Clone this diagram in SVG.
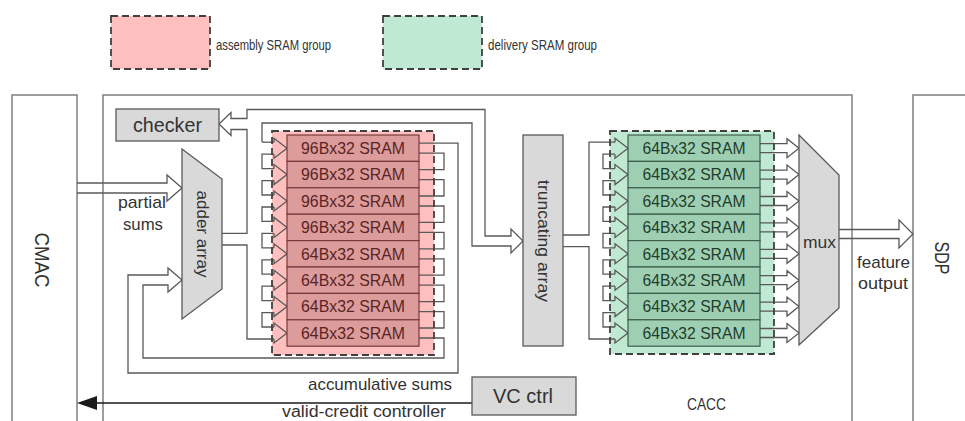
<svg xmlns="http://www.w3.org/2000/svg" width="965" height="421" viewBox="0 0 965 421">
<style>
text{font-family:"Liberation Sans",Arial,sans-serif;fill:#333}
.blk{fill:#fff;stroke:#7f7f7f;stroke-width:1.5}
.gray{fill:#d9d9d9;stroke:#595959;stroke-width:1.3}
.pgrp{fill:#ffbfbf;stroke:none}
.ggrp{fill:#bfe9d3;stroke:none}
.dash{fill:none;stroke:#404040;stroke-width:1.8;stroke-dasharray:7,4}
.psram{fill:#dc9c9c;stroke:#7a3a3a;stroke-width:1.2}
.gsram{fill:#9fcfb3;stroke:#3d5e4a;stroke-width:1.2}
.pt{fill:#5a2424;font-size:16.5px}
.gt{fill:#1f3d2b;font-size:16.5px}
.cn{fill:none;stroke:#595959;stroke-width:1.3;stroke-linejoin:miter}
</style>

<g id="legend">
<rect class="pgrp" x="111" y="16" width="99" height="53"/>
<rect class="dash" x="111" y="16" width="99" height="53"/>
<text x="216" y="50" font-size="15.5" textLength="115" lengthAdjust="spacingAndGlyphs">assembly SRAM group</text>
<rect class="ggrp" x="383" y="16" width="99" height="53"/>
<rect class="dash" x="383" y="16" width="99" height="53"/>
<text x="488" y="50" font-size="15.5" textLength="109" lengthAdjust="spacingAndGlyphs">delivery SRAM group</text>
</g>

<g id="cmac">
<rect class="blk" x="12" y="95" width="65" height="345"/>
<text transform="translate(42,260) rotate(90)" x="0" y="7.5" font-size="21" text-anchor="middle" textLength="55" lengthAdjust="spacingAndGlyphs">CMAC</text>
</g>
<g id="cacc">
<rect class="blk" x="103" y="95" width="749" height="345"/>
<text x="687" y="410" font-size="16" textLength="39" lengthAdjust="spacingAndGlyphs">CACC</text>
</g>
<g id="sdp">
<rect class="blk" x="913" y="95" width="80" height="345"/>
<text transform="translate(942,258) rotate(90)" x="0" y="7" font-size="20" text-anchor="middle" textLength="33" lengthAdjust="spacingAndGlyphs">SDP</text>
</g>

<g id="assembly-group">
<rect class="pgrp" x="272" y="131" width="162" height="224"/>
</g>
<g id="delivery-group">
<rect class="ggrp" x="610" y="131" width="164" height="223"/>
</g>

<g id="connectors">
<path class="cn" d="M77,183 H167 V175 L182,188 L167,201 V193 H77"/>
<path class="cn" d="M262,142.2 V123 H472 V246 H511 V253 L523,241 L511,229 V236 H485 V109.5 H247 V118.5 H231 V112.5 L219,124 L231,135.5 V129.5 H247 V233.3 H222"/>
<path class="cn" d="M274,339 H247 V245 H222"/>
<path class="cn" d="M262,142.2 H274"/>
<path class="cn" d="M274,142.2 V138.2 L287,148.2 L274,158.2 V154.2 M274,168.6 V164.6 L287,174.6 L274,184.6 V180.6 M274,195 V191 L287,201 L274,211 V207 M274,221.4 V217.4 L287,227.4 L274,237.4 V233.4 M274,247.8 V243.8 L287,253.8 L274,263.8 V259.8 M274,274.2 V270.2 L287,280.2 L274,290.2 V286.2 M274,300.6 V296.6 L287,306.6 L274,316.6 V312.6 M274,327 V323 L287,333 L274,343 V339"/>
<path class="cn" d="M274,154.2 H262 V168.6 H274 M274,180.6 H262 V195 H274 M274,207 H262 V221.4 H274 M274,233.4 H262 V247.8 H274 M274,259.8 H262 V274.2 H274 M274,286.2 H262 V300.6 H274 M274,312.6 H262 V327 H274"/>
<path class="cn" d="M419,143.2 H458 V373 H128 V275 H168 V268 L182,280 L168,292 V285 H143 V358 H444 V338 H419"/>
<path class="cn" d="M419,153.2 H444 V169.6 H419 M419,179.6 H444 V196 H419 M419,206 H444 V222.4 H419 M419,232.4 H444 V248.8 H419 M419,258.8 H444 V275.2 H419 M419,285.2 H444 V301.6 H419 M419,311.6 H444 V328 H419"/>
<path class="cn" d="M563,235 H589 V142.2 H615"/>
<path class="cn" d="M615,339 H589 V246.7 H563"/>
<path class="cn" d="M615,142.2 V138.2 L628,148.2 L615,158.2 V154.2 M615,168.6 V164.6 L628,174.6 L615,184.6 V180.6 M615,195 V191 L628,201 L615,211 V207 M615,221.4 V217.4 L628,227.4 L615,237.4 V233.4 M615,247.8 V243.8 L628,253.8 L615,263.8 V259.8 M615,274.2 V270.2 L628,280.2 L615,290.2 V286.2 M615,300.6 V296.6 L628,306.6 L615,316.6 V312.6 M615,327 V323 L628,333 L615,343 V339"/>
<path class="cn" d="M615,154.2 H603 V168.6 H615 M615,180.6 H603 V195 H615 M615,207 H603 V221.4 H615 M615,233.4 H603 V247.8 H615 M615,259.8 H603 V274.2 H615 M615,286.2 H603 V300.6 H615 M615,312.6 H603 V327 H615"/>
<path class="cn" d="M760,143.7 H787 V138.7 L799,148.2 L787,157.7 V152.7 H760 M760,170.1 H787 V165.1 L799,174.6 L787,184.1 V179.1 H760 M760,196.5 H787 V191.5 L799,201 L787,210.5 V205.5 H760 M760,222.9 H787 V217.9 L799,227.4 L787,236.9 V231.9 H760 M760,249.3 H787 V244.3 L799,253.8 L787,263.3 V258.3 H760 M760,275.7 H787 V270.7 L799,280.2 L787,289.7 V284.7 H760 M760,302.1 H787 V297.1 L799,306.6 L787,316.1 V311.1 H760 M760,328.5 H787 V323.5 L799,333 L787,342.5 V337.5 H760"/>
<path class="cn" d="M839,229.5 H899 V220 L913,234 L899,248 V238.5 H839"/>
<path d="M472,403 H96" fill="none" stroke="#1a1a1a" stroke-width="1.4"/>
<polygon points="77,403 97,396 97,410" fill="#1a1a1a"/>
</g>

<g id="labels">
<text x="118" y="208" font-size="17" textLength="48" lengthAdjust="spacingAndGlyphs">partial</text>
<text x="123" y="230" font-size="17" textLength="40" lengthAdjust="spacingAndGlyphs">sums</text>
<text x="308" y="390" font-size="17" textLength="144" lengthAdjust="spacingAndGlyphs">accumulative sums</text>
<text x="282" y="416.5" font-size="16" textLength="164" lengthAdjust="spacingAndGlyphs">valid-credit controller</text>
<text x="857" y="268" font-size="17" textLength="53" lengthAdjust="spacingAndGlyphs">feature</text>
<text x="858" y="289" font-size="17" textLength="50" lengthAdjust="spacingAndGlyphs">output</text>
</g>

<g id="checker">
<rect class="gray" x="116" y="109" width="103" height="32"/>
<text x="167.5" y="132" font-size="20" text-anchor="middle" textLength="69" lengthAdjust="spacingAndGlyphs">checker</text>
</g>
<g id="adder-array">
<polygon class="gray" points="182,149 222,179 222,289 182,319"/>
<text transform="translate(202,234) rotate(90)" x="0" y="5.5" font-size="17" text-anchor="middle" textLength="87" lengthAdjust="spacingAndGlyphs">adder array</text>
</g>

<g id="assembly-srams">
<rect class="psram" x="287" y="135" width="132" height="26.4"/>
<rect class="psram" x="287" y="161.4" width="132" height="26.4"/>
<rect class="psram" x="287" y="187.8" width="132" height="26.4"/>
<rect class="psram" x="287" y="214.2" width="132" height="26.4"/>
<rect class="psram" x="287" y="240.6" width="132" height="26.4"/>
<rect class="psram" x="287" y="267" width="132" height="26.4"/>
<rect class="psram" x="287" y="293.4" width="132" height="26.4"/>
<rect class="psram" x="287" y="319.8" width="132" height="26.4"/>
<text class="pt" x="353" y="154" text-anchor="middle" textLength="104" lengthAdjust="spacingAndGlyphs">96Bx32 SRAM</text>
<text class="pt" x="353" y="180.4" text-anchor="middle" textLength="104" lengthAdjust="spacingAndGlyphs">96Bx32 SRAM</text>
<text class="pt" x="353" y="206.8" text-anchor="middle" textLength="104" lengthAdjust="spacingAndGlyphs">96Bx32 SRAM</text>
<text class="pt" x="353" y="233.2" text-anchor="middle" textLength="104" lengthAdjust="spacingAndGlyphs">96Bx32 SRAM</text>
<text class="pt" x="353" y="259.6" text-anchor="middle" textLength="104" lengthAdjust="spacingAndGlyphs">64Bx32 SRAM</text>
<text class="pt" x="353" y="286" text-anchor="middle" textLength="104" lengthAdjust="spacingAndGlyphs">64Bx32 SRAM</text>
<text class="pt" x="353" y="312.4" text-anchor="middle" textLength="104" lengthAdjust="spacingAndGlyphs">64Bx32 SRAM</text>
<text class="pt" x="353" y="338.8" text-anchor="middle" textLength="104" lengthAdjust="spacingAndGlyphs">64Bx32 SRAM</text>
<rect class="dash" x="272" y="131" width="162" height="224"/>
</g>

<g id="truncating-array">
<rect class="gray" x="523" y="135" width="40" height="211"/>
<text transform="translate(543,241) rotate(90)" x="0" y="5.5" font-size="17" text-anchor="middle" textLength="122" lengthAdjust="spacingAndGlyphs">truncating array</text>
</g>

<g id="delivery-srams">
<rect class="gsram" x="628" y="135" width="132" height="26.4"/>
<rect class="gsram" x="628" y="161.4" width="132" height="26.4"/>
<rect class="gsram" x="628" y="187.8" width="132" height="26.4"/>
<rect class="gsram" x="628" y="214.2" width="132" height="26.4"/>
<rect class="gsram" x="628" y="240.6" width="132" height="26.4"/>
<rect class="gsram" x="628" y="267" width="132" height="26.4"/>
<rect class="gsram" x="628" y="293.4" width="132" height="26.4"/>
<rect class="gsram" x="628" y="319.8" width="132" height="26.4"/>
<text class="gt" x="694" y="154" text-anchor="middle" textLength="103" lengthAdjust="spacingAndGlyphs">64Bx32 SRAM</text>
<text class="gt" x="694" y="180.4" text-anchor="middle" textLength="103" lengthAdjust="spacingAndGlyphs">64Bx32 SRAM</text>
<text class="gt" x="694" y="206.8" text-anchor="middle" textLength="103" lengthAdjust="spacingAndGlyphs">64Bx32 SRAM</text>
<text class="gt" x="694" y="233.2" text-anchor="middle" textLength="103" lengthAdjust="spacingAndGlyphs">64Bx32 SRAM</text>
<text class="gt" x="694" y="259.6" text-anchor="middle" textLength="103" lengthAdjust="spacingAndGlyphs">64Bx32 SRAM</text>
<text class="gt" x="694" y="286" text-anchor="middle" textLength="103" lengthAdjust="spacingAndGlyphs">64Bx32 SRAM</text>
<text class="gt" x="694" y="312.4" text-anchor="middle" textLength="103" lengthAdjust="spacingAndGlyphs">64Bx32 SRAM</text>
<text class="gt" x="694" y="338.8" text-anchor="middle" textLength="103" lengthAdjust="spacingAndGlyphs">64Bx32 SRAM</text>
<rect class="dash" x="610" y="131" width="164" height="223"/>
</g>

<g id="mux">
<polygon class="gray" points="799,135 839,175 839,308 799,345"/>
<text x="819.5" y="248" font-size="16" text-anchor="middle" textLength="33" lengthAdjust="spacingAndGlyphs">mux</text>
</g>

<g id="vc-ctrl">
<rect class="gray" x="472" y="377" width="104" height="38"/>
<text x="523" y="402.5" font-size="21" text-anchor="middle" textLength="60" lengthAdjust="spacingAndGlyphs">VC ctrl</text>
</g>
</svg>
